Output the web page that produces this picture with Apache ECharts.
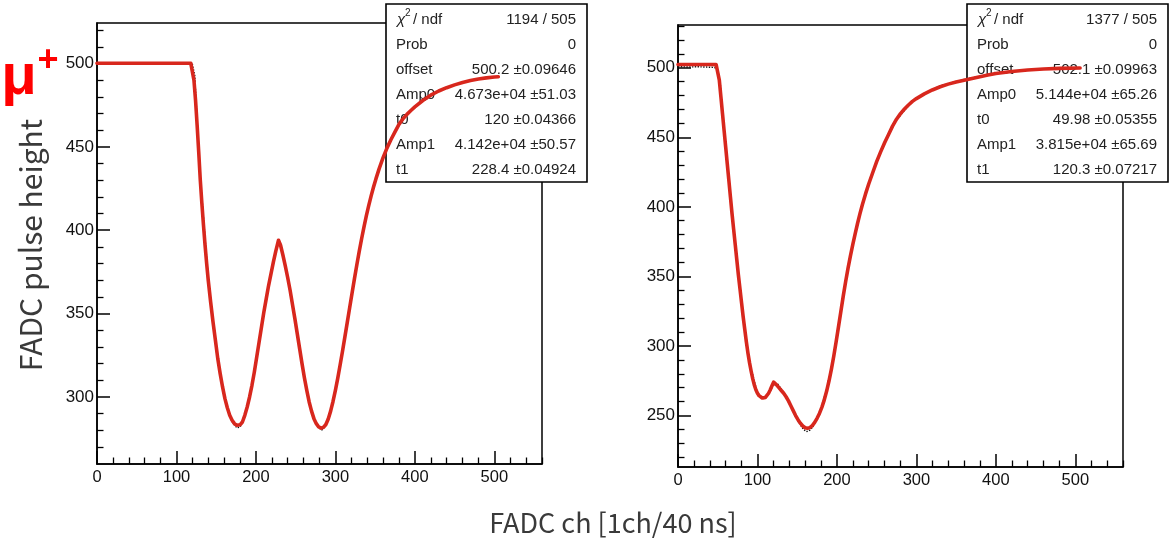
<!DOCTYPE html>
<html><head><meta charset="utf-8">
<script src="https://cdn.jsdelivr.net/npm/echarts@6/dist/echarts.min.js"></script>
<style>html,body{margin:0;padding:0;background:#fff}#c{width:1171px;height:542px}</style>
</head><body><div id="c"></div>
<script>
// ---- data ----
const leftFit = [[0,500.2],[20,500.2],[40,500.2],[60,500.2],[80,500.2],[100,500.2],[118,500.2],[120,499.8],
[122,490],[124,478],[126,463],[128,447],[130,430],[132,416],[134,403],[136,391],[138,380],[140,370],[143,357],[146,345],[149,334],[152,323],[155,314],[158,306],[161,299],[164,293.5],[167,289],[170,286],[173,284],[176,283],[178,282.8],[180,283.3],[183,285],[186,289],[189,294],[192,300],[195,307],[198,315],[201,324],[204,333],[207,342],[210,351],[213,359],[216,367],[219,374],[222,381],[225,387.5],[228.4,394],
[231,391],[234,385],[237,378.5],[240,371.5],[243,364],[246,355.5],[249,347],[252,338],[255,329],[258,320],[261,311.5],[264,304],[267,297],[270,291.5],[273,287],[276,284],[279,282],[282,281.3],[285,281.8],[288,283.5],[291,286.8],[294,291.5],[297,297.3],[300,304],[303,311.3],[306,319.3],[309,327.6],[312,336.2],[315,344.9],[318,353.7],[321,362.4],[324,371],[327,379.3],[330,387.3],[333,394.9],[336,402],[339,408.7],[342,414.9],[345,420.6],[348,425.9],[351,430.8],[355,436.8],[360,443.5],[365,449.4],[370,454.4],[375,459],[380,463.5],[385,466.8],[390,469.5],[395,471.8],[400,474],[410,477.8],[420,481],[430,483.5],[440,485.5],[450,487.2],[460,488.6],[470,489.8],[480,490.7],[490,491.4],[500,491.9],[505,492.1]];
const leftData = [[0,500.3],[30,500.4],[60,500.1],[90,500.3],[116,500.2],[120,499.6],[123,493],[126,466],[130,432],[140,371],[150,328],[160,300],[170,285],[176,281.5],[180,282],[186,288],[192,300],[200,321],[210,351],[220,377],[228,393],[232,390],[240,371],[250,343],[260,314],[270,291],[278,282],[283,280.2],[288,283],[294,291.5],[300,304],[310,330],[320,359.5],[330,387.5],[340,411],[350,429.5],[360,443.8],[380,463.8],[400,474.2],[430,483.6],[460,488.7],[490,491.5],[505,492.1]];
const rightFit = [[0,502.3],[20,502.3],[40,502.3],[48,502.2],[50,501.5],[52,491],[54,479],[56,467],[58,455],[60,443],[62,431],[64,419],[66,407],[68,395],[70,384],[72,373],[74,362],[76,351],[78,341],[80,331],[82,321],[84,312],[86,303],[88,295],[90,288],[92,282],[94,276.5],[96,272],[98,268.5],[100,266],[102,264.3],[104,263.2],[106,262.6],[108,262.5],[110,263],[112,264.3],[114,266],[116,268.3],[118,271],[120.3,274],
[122,273.3],[124,272],[127,270],[130,268],[133,266],[136,263.5],[139,260.5],[142,257],[145,253.5],[148,250],[151,247],[154,244.5],[157,242.5],[160,241.2],[163,240.8],[166,241.3],[169,242.8],[172,245],[175,248],[178,251.5],[181,255.9],[184,261.1],[187,267.4],[190,274.8],[193,283.2],[196,292.6],[199,303],[202,313.9],[205,325],[208,336],[211,346.3],[214,355.9],[217,364.8],[220,373],[223,380.8],[226,388.2],[229,395.1],[232,401.5],[236,409.3],[240,416.4],[245,424.5],[250,432.5],[255,439.5],[260,446],[265,452],[270,458],[275,463],[280,467],[285,470.3],[290,473.2],[295,475.8],[300,477.8],[310,481.2],[320,484],[330,486.3],[340,488.2],[350,489.7],[360,491],[370,492.3],[380,493.5],[390,494.7],[400,495.8],[420,497.3],[440,498.4],[460,499.1],[480,499.5],[506,499.8]];
const rightData = [[0,500.8],[12,500.5],[25,500.7],[38,500.4],[46,500.2],[50,498.5],[53,490],[56,468],[60,443],[70,384],[80,331],[90,288],[100,266],[106,262],[110,262.5],[116,267.5],[121,272.5],[125,273],[130,269],[136,264],[145,253],[152,245],[158,240],[162,238.5],[166,239.5],[170,242],[178,251.5],[190,274.8],[200,306.5],[210,343.5],[220,373.5],[232,402.3],[250,433.4],[270,459],[296,476.8],[330,487],[360,491.6],[400,496],[450,498.9],[506,499.8]];

const xMajorTicks = [0,100,200,300,400,500];
const xMinorTicks = [20,40,60,80,120,140,160,180,220,240,260,280,320,340,360,380,420,440,460,480,520,540,560];
const leftYMajor = [300,350,400,450,500];
const leftYMinor = [270,280,290,310,320,330,340,360,370,380,390,410,420,430,440,460,470,480,490,510,520];
const rightYMajor = [250,300,350,400,450,500];
const rightYMinor = [220,230,240,260,270,280,290,310,320,330,340,360,370,380,390,410,420,430,440,460,470,480,490,510,520,530];

const statNames = ['Prob','offset','Amp0','t0','Amp1','t1'];
const leftChi = '1194 / 505';
const leftStats = ['0','500.2 \u00b10.09646','4.673e+04 \u00b151.03','120 \u00b10.04366','4.142e+04 \u00b150.57','228.4 \u00b10.04924'];
const rightChi = '1377 / 505';
const rightStats = ['0','502.1 \u00b10.09963','5.144e+04 \u00b165.26','49.98 \u00b10.05355','3.815e+04 \u00b165.69','120.3 \u00b10.07217'];

const yTitle = 'FADC pulse height';
const xTitle = 'FADC ch [1ch/40 ns]';

// ---- chart ----
const chart = echarts.init(document.getElementById('c'), null, {renderer:'canvas'});
const LBL = '"Liberation Sans", Arial, Helvetica, sans-serif';
const RED = '#d8271d';

function xAxes(gi){
  return [
    {type:'value', gridIndex:gi, min:0, max:560, position:'bottom',
     axisLine:{show:true, onZero:false, lineStyle:{color:'#000', width:1.5}},
     axisTick:{show:true, inside:true, length:13, customValues:xMajorTicks, lineStyle:{color:'#000', width:1.5}},
     axisLabel:{show:true, customValues:xMajorTicks, margin:5, fontSize:16.5, color:'#111', fontFamily:LBL},
     splitLine:{show:false}},
    {type:'value', gridIndex:gi, min:0, max:560, position:'bottom',
     axisLine:{show:false, onZero:false},
     axisTick:{show:true, inside:true, length:6.5, customValues:xMinorTicks, lineStyle:{color:'#000', width:1.3}},
     axisLabel:{show:false}, splitLine:{show:false}}
  ];
}
function yAxes(gi, mn, mx, major, minor){
  return [
    {type:'value', gridIndex:gi, min:mn, max:mx, position:'left',
     axisLine:{show:true, onZero:false, lineStyle:{color:'#000', width:1.5}},
     axisTick:{show:true, inside:true, length:13, customValues:major, lineStyle:{color:'#000', width:1.5}},
     axisLabel:{show:true, customValues:major, margin:3, fontSize:17, color:'#111', fontFamily:LBL},
     splitLine:{show:false}},
    {type:'value', gridIndex:gi, min:mn, max:mx, position:'left',
     axisLine:{show:false, onZero:false},
     axisTick:{show:true, inside:true, length:6.5, customValues:minor, lineStyle:{color:'#000', width:1.3}},
     axisLabel:{show:false}, splitLine:{show:false}}
  ];
}

function statBox(x0, chi, vals){
  const els = [];
  const w = 201, h = 178, y0 = 4;
  els.push({type:'rect', z:1, shape:{x:x0, y:y0, width:w, height:h}, style:{fill:'#fff', stroke:'#000', lineWidth:1.6}});
  const tx = x0 + 10, vx = x0 + w - 11;
  const rowY = i => 19.5 + i*25.1;
  const f = '15px ' + LBL;
  const base = {fill:'#222', textVerticalAlign:'middle', verticalAlign:'middle'};
  els.push({type:'text', z:1, style:Object.assign({text:'\u03c7', x:tx+1, y:rowY(0), font:'italic 15px ' + LBL, textAlign:'left', align:'left'}, base)});
  els.push({type:'text', z:1, style:Object.assign({text:'2', x:tx+9, y:rowY(0)-6, font:'10px ' + LBL, textAlign:'left', align:'left'}, base)});
  els.push({type:'text', z:1, style:Object.assign({text:'/ ndf', x:tx+17, y:rowY(0), font:f, textAlign:'left', align:'left'}, base)});
  els.push({type:'text', z:1, style:Object.assign({text:chi, x:vx, y:rowY(0), font:f, textAlign:'right', align:'right'}, base)});
  statNames.forEach((n,i)=>{
    els.push({type:'text', z:1, style:Object.assign({text:n, x:tx, y:rowY(i+1), font:f, textAlign:'left', align:'left'}, base)});
    els.push({type:'text', z:1, style:Object.assign({text:vals[i], x:vx, y:rowY(i+1), font:f, textAlign:'right', align:'right'}, base)});
  });
  return els;
}

const TF = '"Noto Sans CJK JP", "Noto Sans", sans-serif';
const mid = {textVerticalAlign:'middle', verticalAlign:'middle', textAlign:'center', align:'center'};
const graphics = [].concat(
  statBox(386, leftChi, leftStats),
  statBox(967, rightChi, rightStats),
  [
    {type:'text', z:1, rotation:Math.PI/2, x:31, y:245, style:Object.assign({text:yTitle, x:0, y:0, font:'30px ' + TF, fill:'#3a3a3a'}, mid)},
    {type:'text', z:1, style:Object.assign({text:xTitle, x:613, y:523, font:'27px ' + TF, fill:'#3a3a3a'}, mid)},
    {type:'text', z:1, style:Object.assign({text:'\u03bc', x:19, y:78, font:'bold 58px ' + LBL, fill:'#ff0000'}, mid)},
    {type:'text', z:1, style:Object.assign({text:'+', x:48, y:61, font:'bold 36px ' + LBL, fill:'#ff0000'}, mid)}
  ]
);

const option = {
  animation:false,
  backgroundColor:'#fff',
  grid:[
    {left:97, top:23, width:445, height:441, show:true, borderColor:'#000', borderWidth:1.5, backgroundColor:'transparent', containLabel:false},
    {left:678, top:25, width:445, height:442, show:true, borderColor:'#000', borderWidth:1.5, backgroundColor:'transparent', containLabel:false}
  ],
  xAxis: [].concat(xAxes(0), xAxes(1)),
  yAxis: [].concat(yAxes(0, 259.8, 524.3, leftYMajor, leftYMinor), yAxes(1, 213, 530.7, rightYMajor, rightYMinor)),
  series:[
    {type:'line', xAxisIndex:0, yAxisIndex:0, data:leftData, symbol:'none', z:2, lineStyle:{color:'#111', width:1.4, type:'dotted'}},
    {type:'line', xAxisIndex:0, yAxisIndex:0, data:leftFit, symbol:'none', z:3, lineStyle:{color:RED, width:3.6, join:'round', cap:'round'}},
    {type:'line', xAxisIndex:2, yAxisIndex:2, data:rightData, symbol:'none', z:2, lineStyle:{color:'#111', width:1.4, type:'dotted'}},
    {type:'line', xAxisIndex:2, yAxisIndex:2, data:rightFit, symbol:'none', z:3, lineStyle:{color:RED, width:3.6, join:'round', cap:'round'}}
  ],
  graphic: graphics
};
chart.setOption(option);
</script>
</body></html>
